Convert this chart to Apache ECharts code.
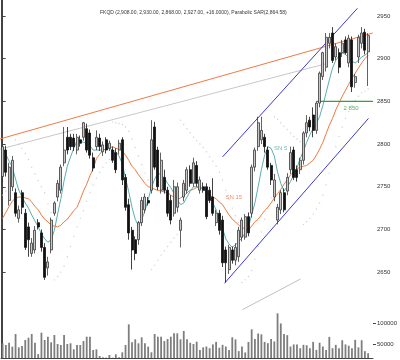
<!DOCTYPE html>
<html><head><meta charset="utf-8">
<script src="https://cdn.jsdelivr.net/npm/echarts@6/dist/echarts.min.js"></script>
<style>html,body{margin:0;padding:0;background:#fff}#c{width:400px;height:360px}</style>
</head><body><div id="c"></div>
<script>
const titleText = 'FKQD (2,908.00, 2,930.00, 2,868.00, 2,927.00, +16.0000), Parabolic SAR(2,864.58)';
const opens  = [2762,2793,2734,2750,2743,2713,2743,2719,2703,2672, 2676,2708,2696,2679,2655,2676,2719,2738,2746,2778, 2808,2808,2807,2793,2805,2808,2818,2813,2784,2797, 2807,2791,2805,2795,2793,2790,2793,2805,2761,2729, 2699,2688,2688,2708,2723,2734,2746,2820,2793,2746, 2761,2746,2734,2719,2726,2699,2738,2746,2770,2754, 2775,2746,2750,2750,2746,2738,2708,2719,2711,2676, 2653,2676,2664,2668,2691,2691,2715,2719,2773,2797, 2805,2808,2793,2775,2738,2711,2723,2743,2745,2770, 2793,2770,2770,2781,2813,2828,2834,2816,2848,2879, 2890,2918,2930,2902,2907,2907,2922,2895,2922,2872, 2902,2918,2931,2908];
const highs  = [2805,2798,2778,2786,2748,2728,2746,2724,2708,2690, 2704,2712,2700,2684,2668,2714,2733,2758,2776,2820, 2820,2812,2812,2812,2810,2826,2824,2817,2790,2816, 2812,2803,2808,2804,2797,2795,2805,2808,2765,2736, 2703,2692,2710,2738,2742,2738,2828,2826,2797,2790, 2770,2750,2740,2758,2755,2714,2758,2773,2775,2784, 2780,2762,2755,2754,2750,2760,2723,2723,2716,2680, 2682,2680,2684,2703,2714,2718,2720,2776,2796,2832, 2832,2812,2797,2778,2765,2730,2746,2748,2766,2797, 2797,2775,2784,2815,2834,2832,2843,2850,2885,2908, 2930,2930,2937,2918,2912,2922,2926,2928,2926,2882, 2928,2937,2935,2930];
const lows   = [2755,2762,2728,2745,2715,2708,2718,2676,2668,2668, 2672,2700,2674,2641,2646,2672,2716,2733,2742,2774, 2788,2793,2792,2788,2797,2804,2790,2783,2768,2793, 2792,2786,2789,2792,2778,2766,2788,2752,2722,2688, 2653,2664,2682,2704,2719,2728,2742,2770,2746,2742, 2742,2715,2706,2715,2720,2679,2733,2742,2750,2750, 2750,2742,2743,2712,2731,2716,2704,2694,2656,2638, 2648,2660,2658,2662,2686,2688,2692,2714,2768,2792, 2800,2790,2770,2752,2733,2706,2718,2720,2740,2765, 2758,2756,2765,2776,2808,2815,2808,2812,2843,2875, 2885,2912,2895,2898,2883,2902,2905,2890,2861,2866, 2895,2912,2905,2868];
const closes = [2797,2767,2773,2781,2719,2723,2726,2679,2688,2684, 2699,2703,2679,2644,2662,2711,2731,2754,2773,2793, 2793,2797,2797,2808,2801,2825,2793,2787,2772,2808, 2797,2799,2793,2801,2781,2770,2801,2758,2726,2696, 2676,2672,2708,2734,2738,2731,2805,2773,2750,2781, 2746,2719,2711,2750,2750,2711,2754,2770,2754,2778, 2754,2758,2746,2715,2734,2719,2719,2699,2661,2661, 2679,2664,2679,2699,2711,2715,2696,2773,2793,2825, 2816,2797,2773,2758,2758,2726,2743,2723,2761,2790, 2761,2761,2781,2813,2825,2820,2816,2848,2883,2907, 2925,2925,2898,2914,2890,2918,2907,2924,2867,2879, 2925,2930,2910,2927];
const volumes = [51700,47600,53200,43600,73800,42000,45000,59500,65000,73800, 53000,26000,77000,59500,67400,54000,71400,50000,47600,71400, 50000,51700,37300,47600,47600,57000,67400,67400,35700,37300, 21400,18300,17500,23800,17500,25400,18300,30200,47600,96800, 54000,61100,51700,65900,51700,43600,30200,73800,67400,67400, 57000,61900,67400,75400,75400,61100,81000,61100,53000,50000, 55500,35700,42000,44000,40000,49000,55000,41000,48000,44000, 36000,66000,61000,33000,44000,30000,55000,85000,62000,75000, 73000,55000,52000,62000,56000,123000,99000,74000,71000,44000, 49000,49000,40000,48000,47000,40000,55000,36000,53000,44000, 36000,67000,40000,48000,40000,59000,49000,46000,40000,60000, 42000,59000,33000,28000];
const sma5 = [2797,2788,2780,2773,2759,2746,2738,2731,2725,2717, 2710,2703,2695,2689,2685,2688,2699,2718,2736,2757, 2774,2785,2795,2804,2804,2802,2801,2798,2793,2793, 2793,2793,2794,2795,2793,2791,2786,2777,2760,2744, 2726,2712,2704,2711,2722,2735,2749,2759,2766,2764, 2760,2754,2749,2742,2735,2729,2731,2738,2745,2750, 2750,2750,2747,2744,2738,2731,2723,2711,2701,2689, 2683,2679,2682,2686,2690,2696,2703,2717,2731,2750, 2770,2787,2797,2795,2786,2767,2754,2745,2750,2756, 2764,2772,2783,2792,2802,2811,2818,2824,2832,2845, 2860,2875,2889,2898,2903,2907,2905,2901,2897,2895, 2898,2902,2904,2907];
const sma15 = [2713,2720,2727,2733,2737,2738,2738,2737,2736,2732, 2727,2723,2717,2712,2709,2705,2704,2703,2705,2709, 2712,2717,2722,2726,2735,2745,2753,2763,2771,2783, 2788,2793,2794,2795,2797,2795,2794,2792,2787,2781, 2774,2770,2764,2759,2754,2750,2749,2747,2746,2745, 2744,2743,2740,2738,2735,2737,2739,2743,2746,2747, 2749,2750,2747,2744,2740,2738,2736,2732,2729,2723, 2717,2712,2709,2705,2702,2701,2699,2704,2709,2712, 2717,2722,2726,2731,2737,2742,2747,2753,2758,2764, 2767,2771,2773,2774,2775,2778,2781,2787,2794,2802, 2812,2822,2830,2840,2848,2856,2863,2870,2877,2883, 2889,2895,2900,2904];
const sar = [2740,2745,2750,2754, 2805,2800,2795,2789,2782,2773,2765,2757,2750,2743,2730,2720, 2641,2645,2650,2657,2668,2680,2692,2703,2713,2722,2733,2743,2752,2760,2767,2773,2778,2782, 2826,2825,2824,2823,2820,2815,2806,2796,2786,2776,2766,2758, 2653,2658,2664,2670,2675,2680,2685,2690,2694, 2828,2823,2818,2813,2808,2804,2800,2796,2791,2785,2780,2774,2767,2758,2746,2735,2725,2716,2708, 2638,2641,2645,2652,2665,2680,2697,2712,2725,2737, 2832,2829,2825,2821,2817,2813,2809,2806,2803, 2706,2709,2713,2718,2724,2731,2740,2752,2766,2782,2797,2809,2820,2830,2838,2845,2851,2856,2860,2862,2864.58];
const priceTicks = [2650,2700,2750,2800,2850,2900,2950];
const volumeTicks = [50000,100000];
// annotation lines: [candle index, price]
const orangeTrend = [[-0.8,2806],[114.4,2930]];
const grayTrend = [[-0.8,2794],[99.9,2894]];
const channelUpper = [[68.0,2785],[109.7,2959]];
const channelLower = [[68.6,2637],[113.1,2830]];
const lowerGrayLine = [[74.1,2606],[92.1,2642]];
const supportLine = [[97.0,2850],[114.5,2850]];
const textMarks = [
  {name:'SN 5', value:[83.9,2795], color:'#4fa9a9'},
  {name:'SN 15', value:[68.9,2738], color:'#e8773a'},
  {name:'2 850', value:[105.4,2842], color:'#2e9a2e'}
];

const nCat = closes.length + 1;
const cats = Array.from({length:nCat},(_, i)=>String(i));
const candleData = closes.map((c,i)=>[opens[i], c, lows[i], highs[i]]);
const sarData = sar.map((v,i)=>[i, v]);

function trend(data, color, width){
  return {type:'line', xAxisIndex:1, yAxisIndex:0, data, symbol:'none', silent:true,
    lineStyle:{color, width}, z:4, animation:false};
}

const chart = echarts.init(document.getElementById('c'), null, {renderer:'canvas'});
chart.setOption({
  animation:false,
  backgroundColor:'#ffffff',
  title:{text:titleText, left:95, top:5, textStyle:{fontSize:5, fontWeight:'normal', color:'#333', fontFamily:'Liberation Sans, Arial, sans-serif'}},
  grid:{left:1, right:27, top:0, bottom:2},
  xAxis:[
    {type:'category', data:cats, boundaryGap:true, axisLine:{show:true, lineStyle:{color:'#444', width:1}}, axisTick:{show:false}, axisLabel:{show:false}, splitLine:{show:false}},
    {type:'value', min:-0.5, max:nCat-0.5, show:false}
  ],
  yAxis:[
    {type:'value', position:'right', min:2549.5, max:2968.7,
      axisLine:{show:true, lineStyle:{color:'#444', width:1}},
      axisTick:{show:true, length:3, customValues:priceTicks, lineStyle:{color:'#444'}},
      axisLabel:{show:true, customValues:priceTicks, fontSize:6, color:'#333', margin:4, fontFamily:'Liberation Sans, Arial, sans-serif', formatter:v=>String(v)},
      splitLine:{show:false}},
    {type:'value', position:'right', min:16667, max:869067,
      axisLine:{show:false},
      axisTick:{show:true, length:3, customValues:volumeTicks, lineStyle:{color:'#444'}},
      axisLabel:{show:true, customValues:volumeTicks, fontSize:6, color:'#333', margin:4, fontFamily:'Liberation Sans, Arial, sans-serif', formatter:v=>String(v)},
      splitLine:{show:false}},
    {type:'value', position:'left', min:0, max:1, axisLine:{show:true, lineStyle:{color:'#444', width:1}}, axisTick:{show:false}, axisLabel:{show:false}, splitLine:{show:false}}
  ],
  series:[
    {type:'bar', xAxisIndex:0, yAxisIndex:1, data:volumes, barWidth:1.8, itemStyle:{color:'#7e7e7e'}, silent:true, z:1},
    {type:'scatter', xAxisIndex:1, yAxisIndex:0, data:sarData, symbolSize:1.4, itemStyle:{color:'#c4c4c4'}, silent:true, z:1},
    trend(lowerGrayLine, '#c0c0c0', 1),
    trend(grayTrend, '#c8c8c8', 1),
    {type:'line', xAxisIndex:0, yAxisIndex:0, data:sma15, symbol:'none', silent:true, lineStyle:{color:'#ee7b3f', width:1}, z:3},
    {type:'line', xAxisIndex:0, yAxisIndex:0, data:sma5, symbol:'none', silent:true, lineStyle:{color:'#5aaeb0', width:1}, z:3},
    {type:'candlestick', xAxisIndex:0, yAxisIndex:0, data:candleData, barWidth:2.5, silent:true, z:5,
      itemStyle:{color:'#c8c8c8', color0:'#111', borderColor:'#3a3a3a', borderColor0:'#111', borderWidth:0.8}},
    trend(orangeTrend, '#f07a45', 1),
    trend(channelUpper, '#3a3acb', 1),
    trend(channelLower, '#3a3acb', 1),
    trend(supportLine, '#35a035', 1.2),
    {type:'scatter', xAxisIndex:1, yAxisIndex:0, symbolSize:0, silent:true, z:6,
      data:textMarks.map(t=>({name:t.name, value:t.value, label:{color:t.color}})),
      label:{show:true, position:'right', distance:0, formatter:'{b}', fontSize:6, fontFamily:'Liberation Sans, Arial, sans-serif'}}
  ]
});
</script></body></html>
